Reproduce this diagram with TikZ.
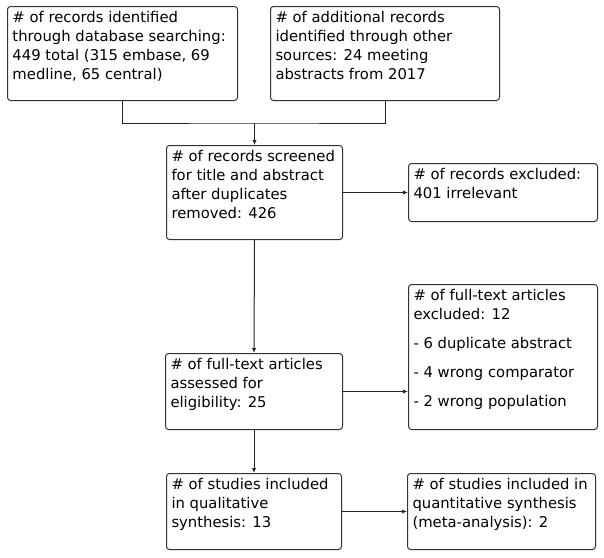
\documentclass[tikz,border=0pt]{standalone}
\usepackage{fontspec}
\setmainfont{DejaVu Sans}
\usetikzlibrary{arrows.meta}
\begin{document}
\begin{tikzpicture}[x=1pt, y=-1pt,
		box/.style={draw=black!80, line width=1pt, rounded corners=3pt,
			inner sep=5pt, anchor=north west,
			font=\fontsize{14.8}{19}\selectfont},
		flow/.style={draw=black!85, line width=1pt,
			-{Latex[length=5pt,width=4.5pt]}}]
		\useasboundingbox (0,0) rectangle (604,557);
		\node[box] (db) at (7,6)
		{\parbox[t][84pt][t]{220pt}{\raggedright \# of records identified\\through database searching:\\449 total (315 embase, 69\\medline, 65 central)}};
		\node[box] (other) at (270,6)
		{\parbox[t][84pt][t]{219pt}{\raggedright \# of additional records\\identified through other\\sources: 24 meeting\\abstracts from 2017}};
		\node[box] (screen) at (166,145)
		{\parbox[t][84pt][t]{166pt}{\raggedright \# of records screened\\for title and abstract\\after duplicates\\removed: 426}};
		\node[box] (excl) at (408,163)
		{\parbox[t][48pt][t]{179pt}{\raggedright \# of records excluded:\\401 irrelevant}};
		\node[box] (fullexcl) at (408,284)
		{\parbox[t][135pt][t]{179pt}{\raggedright \# of full-text articles\\excluded: 12\\[10pt]- 6 duplicate abstract\\[10pt]- 4 wrong comparator\\[10pt]- 2 wrong population}};
		\node[box] (full) at (165,353)
		{\parbox[t][66pt][t]{167pt}{\raggedright \# of full-text articles\\assessed for\\eligibility: 25}};
		\node[box] (qual) at (166,473)
		{\parbox[t][66pt][t]{165pt}{\raggedright \# of studies included\\in qualitative\\synthesis: 13}};
		\node[box] (quant) at (407,473)
		{\parbox[t][66pt][t]{178pt}{\raggedright \# of studies included in\\quantitative synthesis\\(meta-analysis): 2}};
		
		\coordinate (join) at (screen.north |- 0,123);
		\draw[draw=black!85, line width=1pt] (db.south) |- (join) -| (other.south);
		\draw[flow] (join) -- (screen.north);
		\draw[flow] (screen.east) -- (excl.west);
		\draw[flow] (screen.south) -- (full.north);
		\draw[flow] (full.east) -- (full.east -| fullexcl.west);
		\draw[flow] (full.south) -- (qual.north);
		\draw[flow] (qual.east) -- (qual.east -| quant.west);
		\end{tikzpicture}
\end{document}
